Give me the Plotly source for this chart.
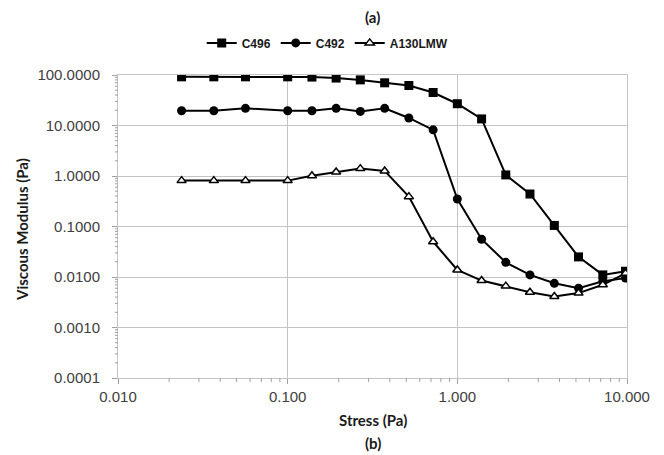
import math
import plotly.graph_objects as go

stress_c496 = [0.0237, 0.0367, 0.0564, 0.100, 0.139, 0.193, 0.268, 0.373, 0.518, 0.720, 1.00, 1.39, 1.93, 2.68, 3.73, 5.18, 7.20, 9.80]
c496 = [92, 92, 92, 92, 91, 87, 80, 70, 62, 45, 27, 13.5, 1.05, 0.44, 0.105, 0.025, 0.011, 0.013]

stress_c492 = [0.0237, 0.0367, 0.0564, 0.100, 0.139, 0.193, 0.268, 0.373, 0.518, 0.720, 1.00, 1.39, 1.93, 2.68, 3.73, 5.18, 7.20, 9.80]
c492 = [19.6, 19.6, 21.9, 19.6, 19.6, 21.9, 19.0, 21.9, 14.1, 8.2, 0.35, 0.056, 0.0195, 0.011, 0.0075, 0.006, 0.0082, 0.0095]

stress_a130 = [0.0237, 0.0367, 0.0564, 0.100, 0.139, 0.193, 0.268, 0.373, 0.518, 0.720, 1.00, 1.39, 1.93, 2.68, 3.73, 5.18, 7.20, 9.80]
a130 = [0.81, 0.81, 0.81, 0.81, 1.01, 1.2, 1.4, 1.26, 0.39, 0.050, 0.0138, 0.0085, 0.0066, 0.0050, 0.0041, 0.0048, 0.0070, 0.0118]

x_tickformat = ".3f"   # 0.010, 0.100, 1.000, 10.000
y_tickformat = ".4f"   # 0.0001 ... 100.0000
x_range = [-2, 1]      # log10 range of the stress axis
y_range = [-4, 2]      # log10 range of the modulus axis
x_decades = [0.01, 0.1, 1]
y_decades = [0.0001, 0.001, 0.01, 0.1, 1, 10]

fig = go.Figure()
fig.add_trace(go.Scatter(x=stress_c496, y=c496, name="C496", mode="lines+markers",
                         line=dict(color="black", width=2),
                         marker=dict(symbol="square", size=9, color="black")))
fig.add_trace(go.Scatter(x=stress_c492, y=c492, name="C492", mode="lines+markers",
                         line=dict(color="black", width=2),
                         marker=dict(symbol="circle", size=9, color="black")))
fig.add_trace(go.Scatter(x=stress_a130, y=a130, name="A130LMW", mode="lines+markers",
                         line=dict(color="black", width=2),
                         marker=dict(symbol="triangle-up", size=8, color="white",
                                     line=dict(color="black", width=1.5))))

grid = "#c4c4c4"
tickc = "#a0a0a0"
tickfont = dict(family="Liberation Sans, Arial, sans-serif", size=15, color="#404040")
boldfont = dict(family="Lato, Carlito, sans-serif", size=15, color="#1a1a1a")


def frac(v, rng):
    return (math.log10(v) - rng[0]) / (rng[1] - rng[0])


# minor tick marks at 2..9 x each decade (outside the plot, so domain refs avoid clipping)
shapes = []
for d in x_decades:
    for m in range(2, 10):
        f = frac(m * d, x_range)
        shapes.append(dict(type="line", xref="x domain", yref="y domain", x0=f, x1=f,
                           y0=0, y1=-4 / 303, line=dict(color=tickc, width=1)))
for d in y_decades:
    for m in range(2, 10):
        f = frac(m * d, y_range)
        shapes.append(dict(type="line", xref="x domain", yref="y domain", x0=0, x1=-3 / 509,
                           y0=f, y1=f, line=dict(color=tickc, width=1)))

fig.update_layout(
    width=664, height=455,
    margin=dict(l=118, r=37, t=75, b=77),
    paper_bgcolor="white", plot_bgcolor="white",
    showlegend=True,
    shapes=shapes,
    legend=dict(orientation="h", x=0.412, xanchor="center", y=1.106, yanchor="middle",
                font=dict(family="Liberation Sans, Arial, sans-serif", size=12, color="#1a1a1a",
                          weight="bold"),
                itemwidth=30, tracegroupgap=0, bgcolor="rgba(0,0,0,0)"),
    xaxis=dict(type="log", range=x_range, tickmode="linear", tick0=0, dtick=1,
               tickformat=x_tickformat,
               showgrid=True, gridcolor=grid, gridwidth=1,
               showline=True, linecolor=grid, linewidth=1, mirror=True,
               ticks="outside", ticklen=5, tickcolor=tickc, tickfont=tickfont,
               zeroline=False),
    yaxis=dict(type="log", range=y_range, tickmode="linear", tick0=0, dtick=1,
               tickformat=y_tickformat,
               showgrid=True, gridcolor=grid, gridwidth=1,
               showline=True, linecolor=grid, linewidth=1, mirror=True,
               ticks="outside", ticklen=5, tickcolor=tickc, tickfont=tickfont,
               ticklabelstandoff=9,
               zeroline=False),
    annotations=[
        dict(text="<b>(a)</b>", xref="paper", yref="paper", x=0.5, y=(378 - 17) / 303,
             showarrow=False, font=boldfont, xanchor="center", yanchor="middle"),
        dict(text="<b>Stress (Pa)</b>", xref="paper", yref="paper", x=0.5, y=(378 - 420) / 303,
             showarrow=False, font=boldfont, xanchor="center", yanchor="middle"),
        dict(text="<b>(b)</b>", xref="paper", yref="paper", x=0.5, y=(378 - 443) / 303,
             showarrow=False, font=boldfont, xanchor="center", yanchor="middle"),
        dict(text="<b>Viscous Modulus (Pa)</b>", xref="paper", yref="paper",
             x=(22 - 118) / 509, y=(378 - 230) / 303, textangle=-90,
             showarrow=False, font=boldfont, xanchor="center", yanchor="middle"),
    ],
)

fig.write_html("out.html")
